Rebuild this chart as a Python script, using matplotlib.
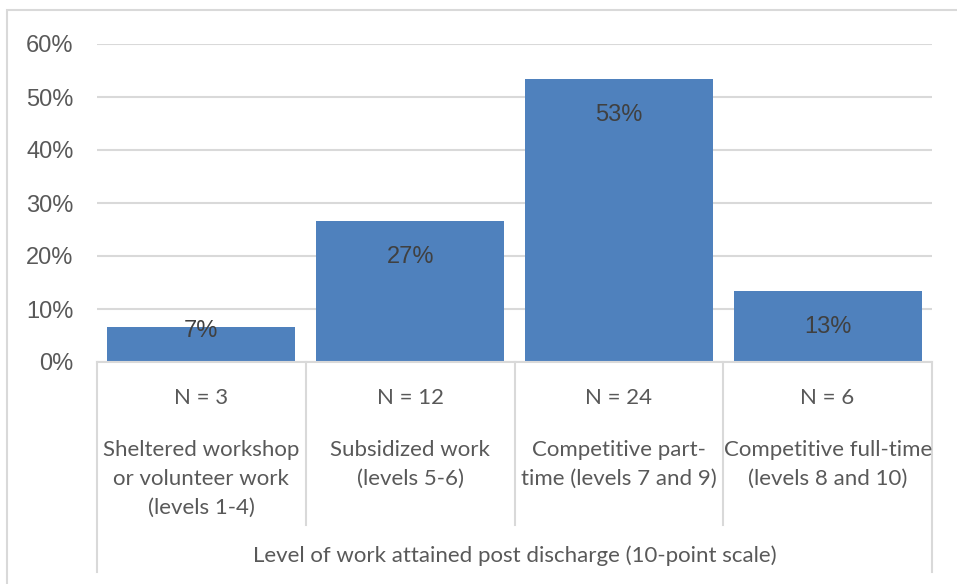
import matplotlib.pyplot as plt
import matplotlib.transforms as mtransforms
from matplotlib.patches import Rectangle

# data
categories = ['Sheltered workshop\nor volunteer work\n(levels 1-4)',
              'Subsidized work\n(levels 5-6)',
              'Competitive part-\ntime (levels 7 and 9)',
              'Competitive full-time\n(levels 8 and 10)']
counts = [3, 12, 24, 6]
n_labels = ['N = 3', 'N = 12', 'N = 24', 'N = 6']
axis_title = 'Level of work attained post discharge (10-point scale)'

total = sum(counts)
percents = [c / total * 100 for c in counts]

W, H = 957, 584
BAR = '#4f81bd'
GRID = '#d9d9d9'
TXT = '#595959'
CAT_FS = 16


def fy(px):
    # pixel row from top -> axes fraction (plot area spans rows 44..362)
    return (362 - px) / (362 - 44)


fig = plt.figure(figsize=(W / 100, H / 100), dpi=100)
ax = fig.add_axes([97 / W, (H - 362) / H, (932 - 97) / W, (362 - 44) / H])

x = list(range(len(counts)))
ax.bar(x, percents, width=0.9, color=BAR, zorder=2)
ax.set_xlim(-0.5, len(counts) - 0.5)
ax.set_ylim(0, 60)
ax.set_yticks(range(0, 61, 10))
ax.set_yticklabels([f'{t}%' for t in range(0, 61, 10)],
                   fontsize=17, color=TXT, family='Liberation Sans')
ax.tick_params(axis='y', length=0, pad=17)
ax.set_xticks([])
ax.grid(axis='y', color=GRID, linewidth=1.5, zorder=0)
for s in ['top', 'right', 'left']:
    ax.spines[s].set_visible(False)
ax.spines['bottom'].set_color(GRID)
ax.spines['bottom'].set_linewidth(1.5)

# data labels, inside end of bars
for xi, p in zip(x, percents):
    ypos = p - 6.8 if p > 10 else p - 0.8
    ax.text(xi, ypos, f'{p:.0f}%', ha='center', va='center',
            fontsize=17, color='#404040', family='Liberation Sans', zorder=3)

# multi-level category axis
trans = mtransforms.blended_transform_factory(ax.transData, ax.transAxes)
for i in range(len(counts) + 1):
    xb = i - 0.5
    bottom = 572 if i in (0, len(counts)) else 525
    ax.plot([xb, xb], [0, fy(bottom)], transform=trans, color=GRID,
            linewidth=1.5, clip_on=False)

for xi, nl, cat in zip(x, n_labels, categories):
    ax.text(xi, fy(398), nl, transform=trans, ha='center', va='center',
            fontsize=CAT_FS, color=TXT, family='Lato')
    ax.text(xi, fy(440), cat, transform=trans, ha='center', va='top',
            fontsize=CAT_FS, color=TXT, family='Lato', linespacing=1.55,
            multialignment='center')

ax.text((len(counts) - 1) / 2, fy(556), axis_title, transform=trans,
        ha='center', va='center', fontsize=CAT_FS, color=TXT, family='Lato')

# outer chart border
fig.patches.append(Rectangle((7 / W, -0.1), 1.1, (H - 10) / H + 0.1,
                             transform=fig.transFigure, fill=False,
                             edgecolor=GRID, linewidth=1.5))

fig.savefig('out.png', dpi=100)
